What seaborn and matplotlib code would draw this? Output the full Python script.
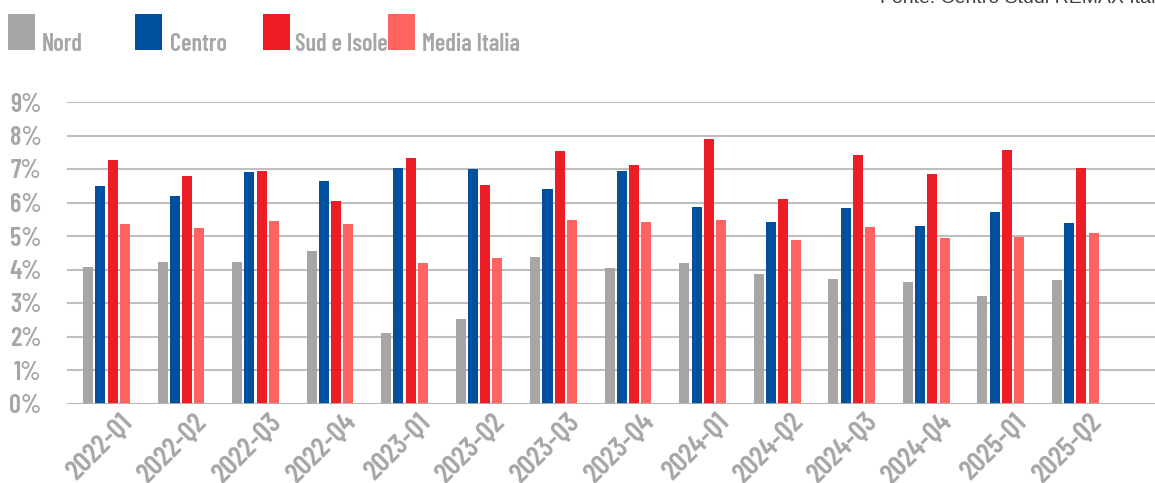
import numpy as np
import pandas as pd
import matplotlib
matplotlib.use("Agg")
import matplotlib.pyplot as plt
import matplotlib.transforms as mtransforms
from matplotlib.patches import Rectangle
from matplotlib import font_manager
import seaborn as sns

# ---- data ----
quarters = ["2022-Q1", "2022-Q2", "2022-Q3", "2022-Q4",
            "2023-Q1", "2023-Q2", "2023-Q3", "2023-Q4",
            "2024-Q1", "2024-Q2", "2024-Q3", "2024-Q4",
            "2025-Q1", "2025-Q2"]
series_names = ["Nord", "Centro", "Sud e Isole", "Media Italia"]
nord = [4.07, 4.22, 4.22, 4.55, 2.10, 2.52, 4.37, 4.04, 4.19, 3.86, 3.72, 3.63, 3.21, 3.69]
centro = [6.49, 6.19, 6.91, 6.64, 7.03, 7.00, 6.40, 6.94, 5.87, 5.42, 5.84, 5.30, 5.72, 5.39]
sud = [7.28, 6.78, 6.95, 6.03, 7.32, 6.52, 7.53, 7.13, 7.89, 6.10, 7.42, 6.84, 7.57, 7.03]
media = [5.35, 5.24, 5.45, 5.35, 4.19, 4.33, 5.48, 5.42, 5.48, 4.87, 5.27, 4.94, 4.97, 5.09]
y_ticks = [0, 1, 2, 3, 4, 5, 6, 7, 8, 9]
y_tick_labels = [f"{v}%" for v in y_ticks]
source_text = "Fonte: Centro Studi REMAX Italia"

colors = ["#A6A6A6", "#0050A0", "#EE1C25", "#FF6460"]

df = pd.DataFrame({
    "quarter": np.repeat(quarters, 4),
    "serie": series_names * len(quarters),
    "value": np.ravel(np.column_stack([nord, centro, sud, media])),
})

# ---- fonts ----
sns.set_theme(style="white")
avail = {f.name for f in font_manager.fontManager.ttflist}
cond = "DejaVu Sans"
for cand in ["Barlow Condensed", "Roboto Condensed", "IBM Plex Sans Condensed"]:
    if cand in avail:
        cond = cand
        break
plt.rcParams["font.family"] = [cond, "DejaVu Sans"]
label_grey = "#A6A6A6"
bold = "semibold"

W, H = 1155, 483
fig = plt.figure(figsize=(W / 100, H / 100), dpi=100)
ax = fig.add_axes([66.7 / W, 1 - 403.5 / H, 1 - 66.7 / W, (403.5 - 102) / H])

sns.barplot(data=df, x="quarter", y="value", hue="serie", order=quarters,
            hue_order=series_names, palette=colors, width=0.656, gap=0.18,
            saturation=1, linewidth=0, ax=ax, legend=False, zorder=3)

ax.set_ylim(0, 9)
ax.set_xlim(-0.534, 14.07)
ax.set_yticks(y_ticks)
ax.set_yticklabels(y_tick_labels)
ax.yaxis.grid(True, color="#BFBFBF", linewidth=1.5, zorder=0)
ax.xaxis.grid(False)
ax.axhline(0, color="#B4B4B4", linewidth=2, zorder=4)
for s in ax.spines.values():
    s.set_visible(False)
ax.set_xlabel("")
ax.set_ylabel("")
ax.tick_params(axis="y", length=0, pad=18, labelsize=19, labelcolor=label_grey)
ax.tick_params(axis="x", length=0, pad=2, labelsize=21, labelcolor=label_grey)
for t in ax.get_yticklabels():
    t.set_fontweight(bold)
offset = mtransforms.ScaledTranslation(13 / 100, -3 / 100, fig.dpi_scale_trans)
for t in ax.get_xticklabels():
    t.set_rotation(45)
    t.set_ha("right")
    t.set_va("top")
    t.set_rotation_mode("anchor")
    t.set_fontweight(bold)
    t.set_transform(t.get_transform() + offset)

# ---- legend (manual, from series names) ----
sq_x = [8, 135, 263, 388]
tx_x = [42, 170, 295, 422]
for name, c, sx, tx in zip(series_names, colors, sq_x, tx_x):
    fig.add_artist(Rectangle((sx / W, 1 - 50 / H), 27 / W, 36 / H,
                             transform=fig.transFigure, color=c, lw=0))
    fig.text(tx / W, 1 - 51 / H, name, fontsize=17.5, fontweight=bold,
             color=label_grey, ha="left", va="baseline")

fig.text(880 / W, 1 - 3 / H, source_text, fontsize=14, color="#404040",
         family=["Liberation Sans", "DejaVu Sans"], ha="left", va="baseline")

fig.savefig("out.png", dpi=100)
